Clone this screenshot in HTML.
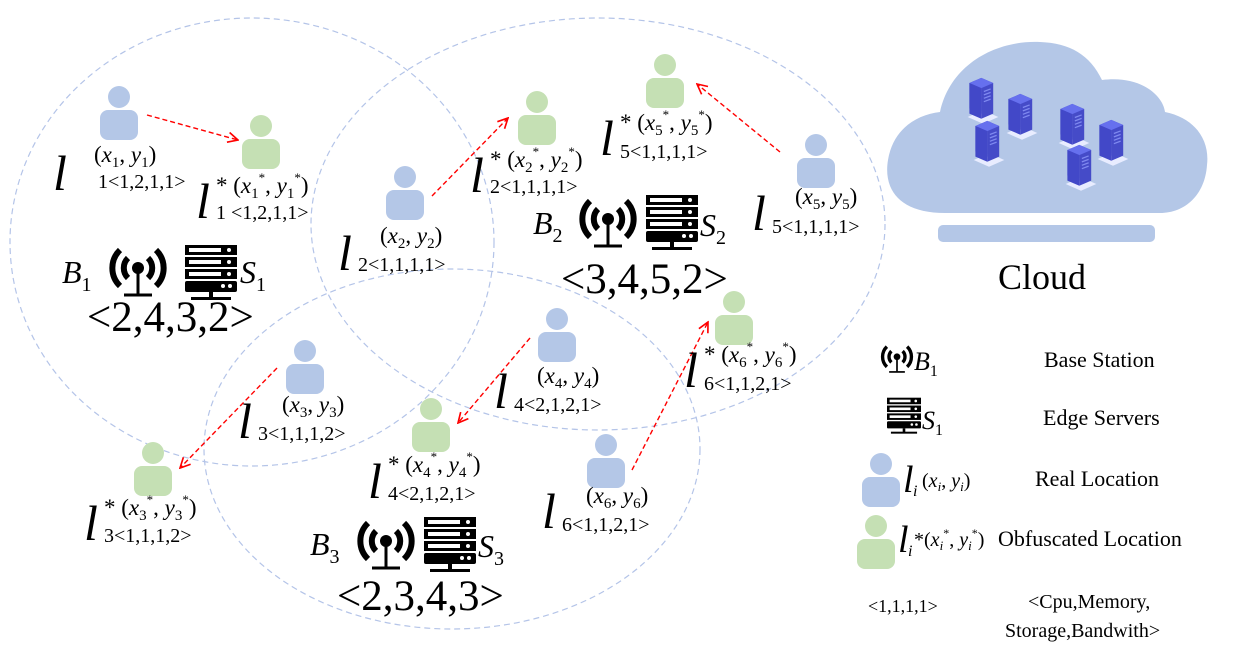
<!DOCTYPE html>
<html><head><meta charset="utf-8"><style>
html,body{margin:0;padding:0;background:#fff}
svg{display:block}
text{font-family:"Liberation Serif",serif;fill:#000}
.i{font-style:italic}
</style></head><body>
<svg width="1242" height="652" viewBox="0 0 1242 652" xmlns="http://www.w3.org/2000/svg">
<defs>
<symbol id="pb" viewBox="0 0 40 56"><circle cx="20" cy="11" r="11" fill="#b4c7e7"/><rect x="1" y="24" width="38" height="30" rx="8" fill="#b4c7e7"/></symbol>
<symbol id="pg" viewBox="0 0 40 56"><circle cx="20" cy="11" r="11" fill="#c5e0b4"/><rect x="1" y="24" width="38" height="30" rx="8" fill="#c5e0b4"/></symbol>
<symbol id="ant" viewBox="0 0 64 56">
<circle cx="32" cy="24" r="6" fill="#000"/>
<line x1="32" y1="28" x2="32" y2="50" stroke="#000" stroke-width="3"/>
<line x1="18" y1="51" x2="46" y2="51" stroke="#000" stroke-width="3"/>
<g fill="none" stroke="#000" stroke-width="6">
<path d="M22 14 A14 14 0 0 0 22 34"/><path d="M42 14 A14 14 0 0 1 42 34"/>
<path d="M14 6 A25 25 0 0 0 14 42"/><path d="M50 6 A25 25 0 0 1 50 42"/>
</g></symbol>
<symbol id="srv" viewBox="0 0 52 56">
<rect x="0" y="0" width="52" height="10" fill="#000"/><rect x="4" y="3" width="32" height="4" fill="#fff"/><circle cx="44" cy="5" r="2" fill="#fff"/>
<rect x="0" y="12" width="52" height="10" fill="#000"/><rect x="4" y="15" width="32" height="4" fill="#fff"/><circle cx="44" cy="17" r="2" fill="#fff"/>
<rect x="0" y="24" width="52" height="10" fill="#000"/><rect x="4" y="27" width="32" height="4" fill="#fff"/><circle cx="44" cy="29" r="2" fill="#fff"/>
<rect x="0" y="36" width="52" height="11" rx="2" fill="#000"/><circle cx="38" cy="41" r="2" fill="#fff"/><circle cx="45" cy="41" r="2" fill="#fff"/>
<rect x="24" y="47" width="4" height="6" fill="#000"/><rect x="6" y="52" width="40" height="3" fill="#000"/>
</symbol>
<symbol id="rack" viewBox="0 0 40 60">
<polygon points="2,50 20,42 38,50 20,58" fill="#e8ecff"/>
<polygon points="4,10 18,4 18,46 4,40" fill="#4a50d0"/>
<polygon points="18,4 32,10 32,46 18,52" fill="#454bc8"/>
<polygon points="4,10 18,4 32,10 18,16" fill="#6670ee"/>
<polygon points="4,10 18,16 18,52 4,46" fill="#4248c8"/>
<g stroke="#7f89f0" stroke-width="1.5"><line x1="21" y1="20" x2="29" y2="17"/><line x1="21" y1="24" x2="29" y2="21"/><line x1="21" y1="28" x2="29" y2="25"/><line x1="21" y1="32" x2="29" y2="29"/></g>
</symbol>
<marker id="ah" viewBox="0 0 10 10" refX="9" refY="5" markerWidth="9" markerHeight="9" orient="auto"><path d="M1 1 L9 5 L1 9" fill="none" stroke="#f00" stroke-width="1.3"/></marker>
</defs>

<g fill="none" stroke="#b4c4e8" stroke-width="1.2" stroke-dasharray="6,4">
<ellipse cx="252" cy="242" rx="242" ry="224"/>
<ellipse cx="598" cy="224" rx="287" ry="206"/>
<ellipse cx="452" cy="449" rx="248" ry="180"/>
</g>

<!-- cloud -->
<path d="M945 213 C900 213 883 190 888 160 C893 130 915 115 940 112 C950 65 995 40 1040 42 C1070 43 1090 55 1102 80 C1140 75 1163 95 1165 112 C1195 118 1210 140 1207 165 C1205 195 1185 213 1160 213 Z" fill="#b4c7e7"/>
<rect x="938" y="225" width="217" height="17" rx="5" fill="#b4c7e7"/>
<use href="#rack" x="966" y="74" width="34" height="52"/>
<use href="#rack" x="1005" y="90" width="34" height="52"/>
<use href="#rack" x="972" y="117" width="34" height="52"/>
<use href="#rack" x="1057" y="100" width="34" height="52"/>
<use href="#rack" x="1096" y="116" width="34" height="52"/>
<use href="#rack" x="1064" y="141" width="34" height="52"/>
<text x="998" y="289" font-size="36">Cloud</text>

<!-- persons -->
<use href="#pb" x="99" y="86" width="40" height="56"/>
<use href="#pg" x="241" y="115" width="40" height="56"/>
<use href="#pb" x="385" y="166" width="40" height="56"/>
<use href="#pg" x="517" y="91" width="40" height="56"/>
<use href="#pg" x="645" y="54" width="40" height="56"/>
<use href="#pb" x="796" y="134" width="40" height="56"/>
<use href="#pg" x="714" y="291" width="40" height="56"/>
<use href="#pb" x="537" y="308" width="40" height="56"/>
<use href="#pb" x="285" y="340" width="40" height="56"/>
<use href="#pg" x="411" y="398" width="40" height="56"/>
<use href="#pg" x="133" y="442" width="40" height="56"/>
<use href="#pb" x="586" y="434" width="40" height="56"/>
<use href="#pb" x="861" y="453" width="40" height="56"/>
<use href="#pg" x="856" y="515" width="40" height="56"/>

<!-- arrows -->
<g stroke="#f00" stroke-width="1.4" stroke-dasharray="5,3" marker-end="url(#ah)">
<line x1="147" y1="115" x2="238" y2="140"/>
<line x1="432" y1="196" x2="508" y2="118"/>
<line x1="780" y1="152" x2="697" y2="84"/>
<line x1="530" y1="338" x2="458" y2="423"/>
<line x1="277" y1="368" x2="180" y2="468"/>
<line x1="632" y1="470" x2="708" y2="322"/>
</g>

<!-- labels -->
<g font-size="20">
<text x="53" y="190" font-size="50" class="i">l</text>
<text x="94" y="162" font-size="23">(<tspan class="i">x</tspan><tspan font-size="15" dy="5">1</tspan><tspan dy="-5">, </tspan><tspan class="i">y</tspan><tspan font-size="15" dy="5">1</tspan><tspan dy="-5">)</tspan></text>
<text x="98" y="188">1&lt;1,2,1,1&gt;</text>

<text x="196" y="218" font-size="50" class="i">l</text>
<text x="216" y="193" font-size="23">* (<tspan class="i">x</tspan><tspan font-size="15" dy="5">1</tspan><tspan font-size="13" dy="-16">*</tspan><tspan dy="11">, </tspan><tspan class="i">y</tspan><tspan font-size="15" dy="5">1</tspan><tspan font-size="13" dy="-16">*</tspan><tspan dy="11">)</tspan></text>
<text x="216" y="219">1 &lt;1,2,1,1&gt;</text>

<text x="338" y="270" font-size="50" class="i">l</text>
<text x="380" y="243" font-size="23">(<tspan class="i">x</tspan><tspan font-size="15" dy="5">2</tspan><tspan dy="-5">, </tspan><tspan class="i">y</tspan><tspan font-size="15" dy="5">2</tspan><tspan dy="-5">)</tspan></text>
<text x="358" y="271">2&lt;1,1,1,1&gt;</text>

<text x="470" y="192" font-size="50" class="i">l</text>
<text x="490" y="167" font-size="23">* (<tspan class="i">x</tspan><tspan font-size="15" dy="5">2</tspan><tspan font-size="13" dy="-16">*</tspan><tspan dy="11">, </tspan><tspan class="i">y</tspan><tspan font-size="15" dy="5">2</tspan><tspan font-size="13" dy="-16">*</tspan><tspan dy="11">)</tspan></text>
<text x="490" y="193">2&lt;1,1,1,1&gt;</text>

<text x="600" y="155" font-size="50" class="i">l</text>
<text x="620" y="130" font-size="23">* (<tspan class="i">x</tspan><tspan font-size="15" dy="5">5</tspan><tspan font-size="13" dy="-16">*</tspan><tspan dy="11">, </tspan><tspan class="i">y</tspan><tspan font-size="15" dy="5">5</tspan><tspan font-size="13" dy="-16">*</tspan><tspan dy="11">)</tspan></text>
<text x="620" y="158">5&lt;1,1,1,1&gt;</text>

<text x="752" y="230" font-size="50" class="i">l</text>
<text x="795" y="204" font-size="23">(<tspan class="i">x</tspan><tspan font-size="15" dy="5">5</tspan><tspan dy="-5">, </tspan><tspan class="i">y</tspan><tspan font-size="15" dy="5">5</tspan><tspan dy="-5">)</tspan></text>
<text x="772" y="233">5&lt;1,1,1,1&gt;</text>

<text x="684" y="387" font-size="50" class="i">l</text>
<text x="704" y="362" font-size="23">* (<tspan class="i">x</tspan><tspan font-size="15" dy="5">6</tspan><tspan font-size="13" dy="-16">*</tspan><tspan dy="11">, </tspan><tspan class="i">y</tspan><tspan font-size="15" dy="5">6</tspan><tspan font-size="13" dy="-16">*</tspan><tspan dy="11">)</tspan></text>
<text x="704" y="390">6&lt;1,1,2,1&gt;</text>

<text x="494" y="408" font-size="50" class="i">l</text>
<text x="537" y="383" font-size="23">(<tspan class="i">x</tspan><tspan font-size="15" dy="5">4</tspan><tspan dy="-5">, </tspan><tspan class="i">y</tspan><tspan font-size="15" dy="5">4</tspan><tspan dy="-5">)</tspan></text>
<text x="514" y="411">4&lt;2,1,2,1&gt;</text>

<text x="238" y="438" font-size="50" class="i">l</text>
<text x="282" y="412" font-size="23">(<tspan class="i">x</tspan><tspan font-size="15" dy="5">3</tspan><tspan dy="-5">, </tspan><tspan class="i">y</tspan><tspan font-size="15" dy="5">3</tspan><tspan dy="-5">)</tspan></text>
<text x="258" y="440">3&lt;1,1,1,2&gt;</text>

<text x="368" y="498" font-size="50" class="i">l</text>
<text x="388" y="472" font-size="23">* (<tspan class="i">x</tspan><tspan font-size="15" dy="5">4</tspan><tspan font-size="13" dy="-16">*</tspan><tspan dy="11">, </tspan><tspan class="i">y</tspan><tspan font-size="15" dy="5">4</tspan><tspan font-size="13" dy="-16">*</tspan><tspan dy="11">)</tspan></text>
<text x="388" y="500">4&lt;2,1,2,1&gt;</text>

<text x="542" y="528" font-size="50" class="i">l</text>
<text x="586" y="503" font-size="23">(<tspan class="i">x</tspan><tspan font-size="15" dy="5">6</tspan><tspan dy="-5">, </tspan><tspan class="i">y</tspan><tspan font-size="15" dy="5">6</tspan><tspan dy="-5">)</tspan></text>
<text x="562" y="531">6&lt;1,1,2,1&gt;</text>

<text x="84" y="540" font-size="50" class="i">l</text>
<text x="104" y="515" font-size="23">* (<tspan class="i">x</tspan><tspan font-size="15" dy="5">3</tspan><tspan font-size="13" dy="-16">*</tspan><tspan dy="11">, </tspan><tspan class="i">y</tspan><tspan font-size="15" dy="5">3</tspan><tspan font-size="13" dy="-16">*</tspan><tspan dy="11">)</tspan></text>
<text x="104" y="542">3&lt;1,1,1,2&gt;</text>
</g>

<!-- base stations -->
<text x="62" y="283" font-size="32" class="i">B<tspan font-size="20" dy="8" font-style="normal">1</tspan></text>
<use href="#ant" x="106" y="244" width="64" height="56"/>
<use href="#srv" x="185" y="245" width="52" height="56"/>
<text x="240" y="283" font-size="32" class="i">S<tspan font-size="20" dy="8" font-style="normal">1</tspan></text>
<text x="87" y="331" font-size="43">&lt;2,4,3,2&gt;</text>

<text x="533" y="234" font-size="32" class="i">B<tspan font-size="20" dy="8" font-style="normal">2</tspan></text>
<use href="#ant" x="576" y="195" width="64" height="56"/>
<use href="#srv" x="646" y="195" width="52" height="56"/>
<text x="700" y="236" font-size="32" class="i">S<tspan font-size="20" dy="8" font-style="normal">2</tspan></text>
<text x="561" y="293" font-size="43">&lt;3,4,5,2&gt;</text>

<text x="310" y="555" font-size="32" class="i">B<tspan font-size="20" dy="8" font-style="normal">3</tspan></text>
<use href="#ant" x="354" y="517" width="64" height="56"/>
<use href="#srv" x="424" y="517" width="52" height="56"/>
<text x="478" y="557" font-size="32" class="i">S<tspan font-size="20" dy="8" font-style="normal">3</tspan></text>
<text x="337" y="610" font-size="43">&lt;2,3,4,3&gt;</text>

<!-- legend -->
<use href="#ant" x="879" y="338" width="36" height="42"/>
<text x="914" y="370" font-size="26" class="i">B<tspan font-size="16" dy="6" font-style="normal">1</tspan></text>
<text x="1044" y="367" font-size="22">Base Station</text>
<use href="#srv" x="887" y="394" width="34" height="44"/>
<text x="922" y="429" font-size="26" class="i">S<tspan font-size="16" dy="6" font-style="normal">1</tspan></text>
<text x="1043" y="425" font-size="22">Edge Servers</text>
<text x="903" y="492" font-size="38" class="i">l</text>
<text x="913" y="496" font-size="16" class="i">i</text>
<text x="922" y="487" font-size="20">(<tspan class="i">x</tspan><tspan font-size="13" dy="4" class="i">i</tspan><tspan dy="-4">, </tspan><tspan class="i">y</tspan><tspan font-size="13" dy="4" class="i">i</tspan><tspan dy="-4">)</tspan></text>
<text x="1035" y="486" font-size="22">Real Location</text>
<text x="898" y="552" font-size="38" class="i">l</text>
<text x="908" y="556" font-size="16" class="i">i</text>
<text x="914" y="546" font-size="20">*(<tspan class="i">x</tspan><tspan font-size="13" dy="4" class="i">i</tspan><tspan font-size="12" dy="-13">*</tspan><tspan dy="9">, </tspan><tspan class="i">y</tspan><tspan font-size="13" dy="4" class="i">i</tspan><tspan font-size="12" dy="-13">*</tspan><tspan dy="9">)</tspan></text>
<text x="998" y="546" font-size="22">Obfuscated Location</text>
<text x="868" y="612" font-size="18">&lt;1,1,1,1&gt;</text>
<text x="1028" y="608" font-size="20">&lt;Cpu,Memory,</text>
<text x="1005" y="637" font-size="20">Storage,Bandwith&gt;</text>
</svg>
</body></html>
